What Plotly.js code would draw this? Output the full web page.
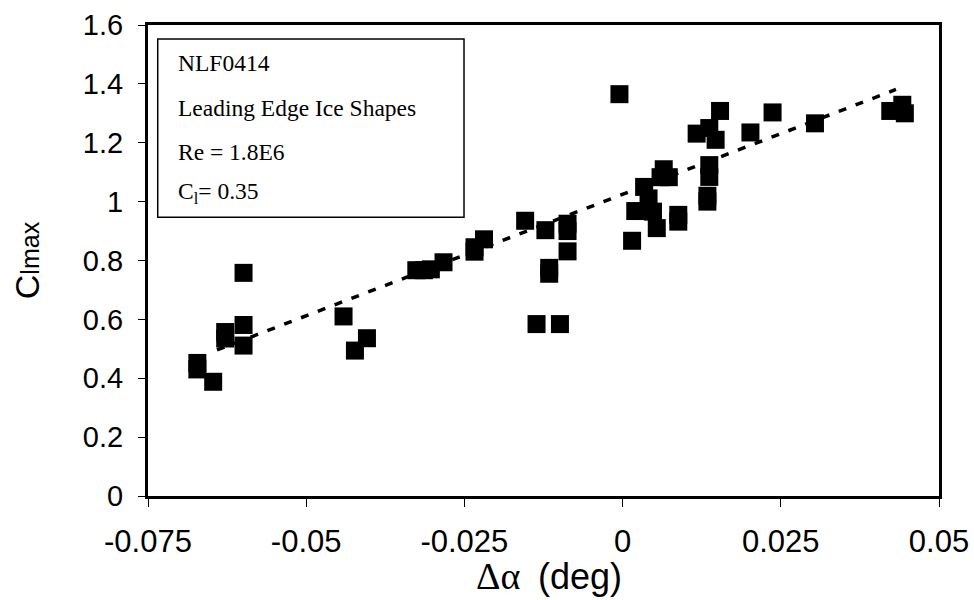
<!DOCTYPE html>
<html>
<head>
<meta charset="utf-8">
<script src="https://cdn.plot.ly/plotly-3.0.1.min.js"></script>
<style>html,body{margin:0;padding:0;background:#fff;}#chart{width:974px;height:600px;}</style>
</head>
<body>
<div id="chart"></div>
<script>
// Data
var deltaAlpha = [-0.0672, -0.0672, -0.0647, -0.0628, -0.0628, -0.0599, -0.0599, -0.0599,
  -0.0441, -0.0423, -0.0404, -0.0326, -0.0314, -0.0303, -0.0283, -0.0234, -0.0234, -0.0219,
  -0.0154, -0.0136, -0.0122, -0.0116, -0.0116, -0.0099, -0.0087, -0.0087, -0.0087,
  -0.0005, 0.0015, 0.0020, 0.0034, 0.0041, 0.0048, 0.0054, 0.0060, 0.0065, 0.0073,
  0.0088, 0.0088, 0.0117, 0.0134, 0.0134, 0.0137, 0.0137, 0.0137, 0.0147, 0.0154,
  0.0202, 0.0237, 0.0304, 0.0423, 0.0442, 0.0446];
var clmax = [0.452, 0.430, 0.388, 0.557, 0.535, 0.581, 0.511, 0.758,
  0.610, 0.494, 0.536, 0.767, 0.767, 0.770, 0.794, 0.845, 0.830, 0.872,
  0.935, 0.584, 0.903, 0.775, 0.755, 0.584, 0.925, 0.900, 0.831,
  1.365, 0.867, 0.968, 1.050, 1.011, 0.966, 0.910, 1.083, 1.110, 1.083,
  0.955, 0.932, 1.231, 1.020, 1.000, 1.124, 1.084, 1.250, 1.210, 1.308,
  1.235, 1.303, 1.266, 1.308, 1.329, 1.300];
// Linear trendline endpoints
var trendX = [-0.0641, 0.0432];
var trendY = [0.496, 1.381];
var xTicks = [-0.075, -0.05, -0.025, 0, 0.025, 0.05];
var xTickText = ['-0.075', '-0.05', '-0.025', '0', '0.025', '0.05'];
var yTicks = [0, 0.2, 0.4, 0.6, 0.8, 1, 1.2, 1.4, 1.6];
var yTickText = ['0', '0.2', '0.4', '0.6', '0.8', '1', '1.2', '1.4', '1.6'];
var boxLines = ['NLF0414', 'Leading Edge Ice Shapes', 'Re = 1.8E6', 'C<sub>l</sub>= 0.35'];
var xTitleGreek = 'Δα';
var xTitleUnit = '(deg)';

var traces = [
  {
    x: deltaAlpha, y: clmax, type: 'scatter', mode: 'markers',
    marker: {symbol: 'square', size: 18, color: '#000'},
    hoverinfo: 'x+y', showlegend: false
  },
  {
    x: trendX, y: trendY, type: 'scatter', mode: 'lines',
    line: {color: '#000', width: 3.5, dash: '8px,10px'},
    hoverinfo: 'skip', showlegend: false
  }
];

var lineY = [0.919, 0.824, 0.730, 0.643];
var annotations = boxLines.map(function (t, i) {
  return {
    xref: 'paper', yref: 'paper', x: 0.0355, y: lineY[i],
    xanchor: 'left', yanchor: 'middle', text: t, showarrow: false,
    font: {family: '"Liberation Serif", "Times New Roman", serif', size: 23.5, color: '#000'}
  };
});
// x-axis title: Greek part in a serif face, unit in sans, as in the reference
annotations.push({
  xref: 'paper', yref: 'paper', x: 0.4728, y: -0.17,
  xanchor: 'right', yanchor: 'middle', text: xTitleGreek, showarrow: false,
  font: {family: '"Liberation Serif", "DejaVu Serif", serif', size: 38, color: '#000'}
});
annotations.push({
  xref: 'paper', yref: 'paper', x: 0.4905, y: -0.17,
  xanchor: 'left', yanchor: 'middle', text: xTitleUnit, showarrow: false,
  font: {family: '"Liberation Sans", Arial, sans-serif', size: 36, color: '#000'}
});

var layout = {
  width: 974, height: 600,
  margin: {l: 148, r: 35, t: 25, b: 104},
  paper_bgcolor: '#fff', plot_bgcolor: '#fff',
  font: {family: '"Liberation Sans", Arial, sans-serif', color: '#000'},
  xaxis: {
    range: [-0.075, 0.05], tickvals: xTicks, ticktext: xTickText,
    tickfont: {size: 31, family: '"Liberation Sans", Arial, sans-serif', color: '#000'},
    ticks: 'outside', ticklen: 8, tickwidth: 1, tickcolor: '#000', ticklabelstandoff: 8,
    showline: true, linecolor: '#000', linewidth: 3, mirror: true,
    showgrid: false, zeroline: false
  },
  yaxis: {
    range: [0, 1.6], tickvals: yTicks, ticktext: yTickText,
    tickfont: {size: 29, family: '"Liberation Sans", Arial, sans-serif', color: '#000'},
    ticks: 'outside', ticklen: 7, tickwidth: 1, tickcolor: '#000', ticklabelstandoff: 9,
    showline: true, linecolor: '#000', linewidth: 3, mirror: true,
    showgrid: false, zeroline: false,
    title: {text: 'C<span style="font-size:25px">lmax</span>',
      font: {size: 34, family: '"Liberation Sans", Arial, sans-serif', color: '#000'}, standoff: 33}
  },
  shapes: [{
    type: 'rect', xref: 'paper', yref: 'paper',
    x0: 0.0123, x1: 0.3995, y0: 0.5917, y1: 0.9703,
    line: {color: '#000', width: 1.5}, fillcolor: 'rgba(0,0,0,0)'
  }],
  annotations: annotations
};

Plotly.newPlot('chart', traces, layout, {displayModeBar: false, staticPlot: true});
</script>
</body>
</html>
